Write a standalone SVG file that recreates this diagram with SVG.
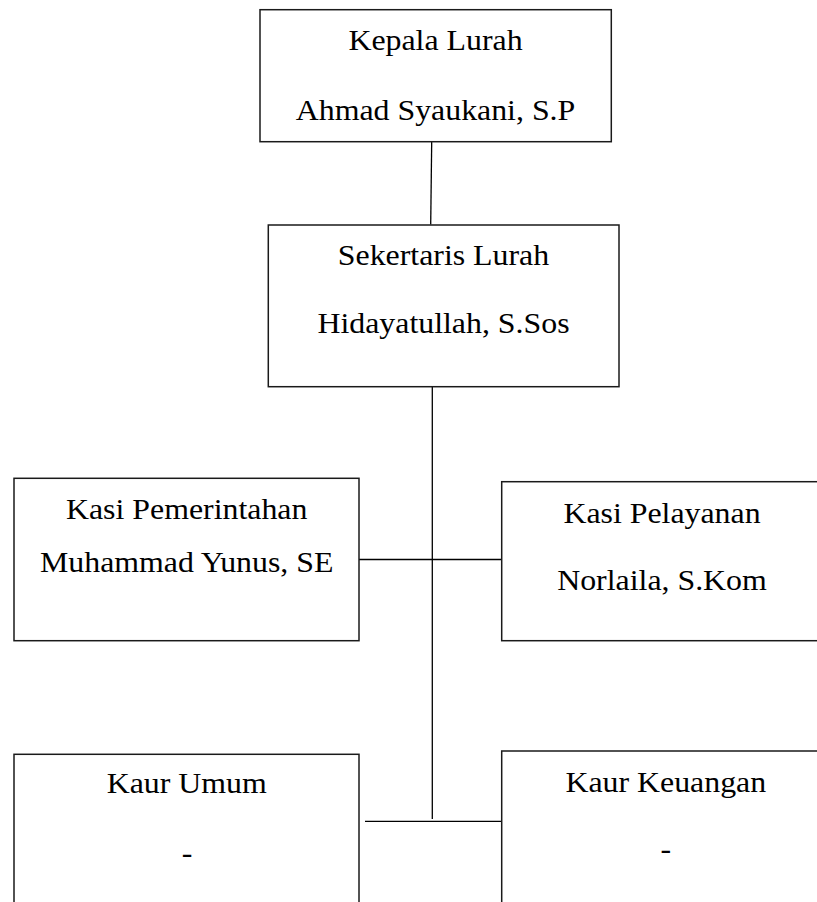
<svg xmlns="http://www.w3.org/2000/svg" width="817" height="902" viewBox="0 0 817 902">
<style>
.box{fill:#fff;stroke:#1a1a1a;stroke-width:1.5}
.ln{stroke:#000;stroke-width:1.3;fill:none}
text{font-family:"Liberation Serif","Times New Roman",serif;font-size:29.5px;fill:#000;text-anchor:middle}
</style>
<rect width="817" height="902" fill="#fff"/>
<g id="connectors">
<line class="ln" x1="431.7" y1="141.5" x2="430.7" y2="224.5"/>
<line class="ln" x1="432.3" y1="387" x2="432.3" y2="819"/>
<line class="ln" x1="359" y1="559.5" x2="501.7" y2="559.5"/>
<line class="ln" x1="365" y1="821.3" x2="501.7" y2="821.3"/>
</g>
<g id="kepala-lurah">
<rect class="box" x="260" y="9.7" width="351.3" height="132"/>
<g transform="translate(435.5,50) scale(1.08,1)"><text>Kepala Lurah</text></g>
<g transform="translate(435.5,120) scale(1.08,1)"><text>Ahmad Syaukani, S.P</text></g>
</g>
<g id="sekertaris-lurah">
<rect class="box" x="268.3" y="225" width="350.7" height="161.7"/>
<g transform="translate(443.5,265) scale(1.08,1)"><text>Sekertaris Lurah</text></g>
<g transform="translate(443.5,333.3) scale(1.08,1)"><text>Hidayatullah, S.Sos</text></g>
</g>
<g id="kasi-pemerintahan">
<rect class="box" x="14" y="478.3" width="345" height="162.4"/>
<g transform="translate(186.7,519.3) scale(1.08,1)"><text>Kasi Pemerintahan</text></g>
<g transform="translate(186.7,571.7) scale(1.08,1)"><text>Muhammad Yunus, SE</text></g>
</g>
<g id="kasi-pelayanan">
<rect class="box" x="501.7" y="481.7" width="322" height="159"/>
<g transform="translate(662,522.7) scale(1.08,1)"><text>Kasi Pelayanan</text></g>
<g transform="translate(662,590) scale(1.08,1)"><text>Norlaila, S.Kom</text></g>
</g>
<g id="kaur-umum">
<rect class="box" x="14" y="754.3" width="345" height="160"/>
<g transform="translate(186.7,793.3) scale(1.08,1)"><text>Kaur Umum</text></g>
<g transform="translate(187,863) scale(1.08,1)"><text>-</text></g>
</g>
<g id="kaur-keuangan">
<rect class="box" x="501.7" y="751" width="330" height="165"/>
<g transform="translate(665.8,791.7) scale(1.08,1)"><text>Kaur Keuangan</text></g>
<g transform="translate(665.8,859) scale(1.08,1)"><text>-</text></g>
</g>
</svg>
